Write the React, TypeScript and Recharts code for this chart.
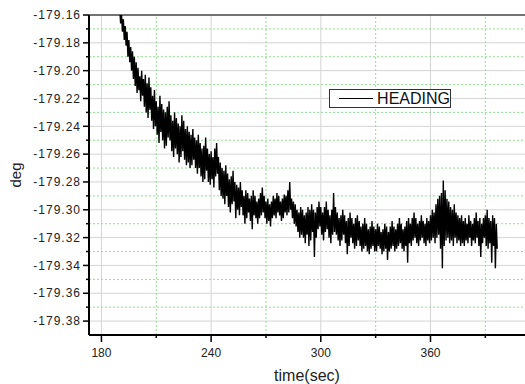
import { Legend, Line, LineChart, ReferenceLine, XAxis, YAxis } from "recharts";

// heading samples every 0.5 s, stored as thousandths of a degree below -179
const BASE = -179;
const STEP = 0.5;

const DECAY_T0 = 189;
const DECAY = [
  146, 158, 155, 166, 160, 172, 163, 178, 168, 182, 172, 190, 178, 194, 183, 200, 186, 206, 190, 211,
  194, 216, 198, 214, 204, 222, 200, 218, 206, 226, 203, 230, 209, 234, 205, 228, 212, 236, 218, 242,
  214, 240, 222, 246, 226, 252, 218, 244, 224, 250, 228, 256, 230, 254, 226, 248, 222, 250, 232, 258,
  236, 262, 230, 256, 234, 260, 238, 266, 240, 262, 232, 258, 236, 264, 242, 268, 240, 266, 244, 270,
  246, 268,
];

const MID_T0 = 230;
const MID = [
  242, 264, 248, 270, 250, 274, 246, 270, 252, 276, 256, 280, 254, 278, 248, 272, 256, 280, 260, 282,
  258, 278, 262, 284, 256, 276, 252, 274, 262, 286, 266, 290, 270, 292, 272, 296, 268, 290, 274, 298,
  278, 302, 276, 296, 272, 294, 280, 306, 282, 300, 284, 304, 280, 298, 286, 304, 290, 310, 286, 306,
  288, 302, 292, 308, 290, 314, 286, 304, 290, 306, 294, 310, 292, 306, 288, 304, 284, 302, 290, 306,
  294, 310, 292, 308, 296, 312, 294, 306, 290, 304, 292, 306, 288, 302, 290, 304, 294, 308, 292, 306,
  289, 302, 290, 304, 286, 302, 280, 300, 292, 306, 294, 310, 296, 312, 300, 316, 302, 320, 298, 318,
];

const FLAT1_T0 = 290;
const FLAT1 = [
  300, 320, 304, 324, 302, 318, 298, 326, 300, 322, 296, 316, 300, 334, 302, 320, 298, 314, 294, 312,
  298, 318, 302, 322, 298, 316, 294, 314, 300, 320, 304, 324, 300, 318, 288, 316, 298, 318, 302, 322,
  306, 326, 304, 322, 300, 318, 304, 324, 308, 332, 306, 326, 302, 320, 306, 324, 310, 328, 306, 326,
  304, 322, 308, 326, 312, 330, 310, 328, 306, 326, 310, 330, 314, 332, 312, 328, 308, 326, 312, 330,
];

const FLAT2_T0 = 330;
const FLAT2 = [
  314, 330, 310, 326, 312, 328, 316, 332, 314, 330, 310, 328, 312, 336, 316, 330, 312, 328, 308, 326,
  312, 330, 314, 328, 310, 326, 306, 324, 310, 328, 314, 330, 312, 326, 308, 338, 306, 324, 310, 326,
  306, 322, 302, 320, 306, 324, 310, 326, 308, 322, 304, 320, 308, 324, 310, 326, 306, 322, 308, 324,
];

const HUMP_T0 = 360;
const HUMP = [
  304, 322, 300, 320, 302, 324, 296, 320, 292, 318, 290, 328, 288, 342, 279, 326, 286, 322, 292, 320,
  294, 324, 298, 322, 300, 326, 296, 320, 302, 324, 304, 322, 306, 326, 304, 324,
];

const TAIL_T0 = 378;
const TAIL = [
  308, 326, 306, 322, 310, 324, 304, 320, 308, 326, 310, 322, 306, 324, 302, 320, 308, 326, 306, 334,
  310, 324, 306, 320, 304, 326, 300, 328, 306, 324, 308, 338, 304, 326, 306, 342, 310, 328,
];

const SEGMENTS: [number, number[]][] = [
  [DECAY_T0, DECAY],
  [MID_T0, MID],
  [FLAT1_T0, FLAT1],
  [FLAT2_T0, FLAT2],
  [HUMP_T0, HUMP],
  [TAIL_T0, TAIL],
];

const data = SEGMENTS.flatMap(([t0, vals]) =>
  vals.map((v, i) => ({ time: t0 + i * STEP, heading: BASE - v / 1000 }))
);

const MAJOR_X = [180, 240, 300, 360];
const MINOR_X = [210, 270, 330, 390];
const MAJOR_Y = [-179.16, -179.18, -179.2, -179.22, -179.24, -179.26, -179.28, -179.3, -179.32, -179.34, -179.36, -179.38];
const MINOR_Y = [-179.17, -179.19, -179.21, -179.23, -179.25, -179.27, -179.29, -179.31, -179.33, -179.35, -179.37];

const FONT = "'Liberation Sans', Arial, sans-serif";
const GRID_GRAY = "#d4d4d4";
const GRID_GREEN = "#8ee08e";

function XTick({ x, y, payload }: any) {
  const major = MAJOR_X.includes(payload.value);
  return (
    <g>
      <line x1={x} x2={x} y1={y} y2={y + (major ? 7 : 3)} stroke="#000" strokeWidth={1.5} />
      {major && (
        <text x={x} y={y + 22} textAnchor="middle" fontSize={12} fontFamily={FONT} fill="#222">
          {payload.value}
        </text>
      )}
    </g>
  );
}

function YTick({ x, y, payload }: any) {
  const major = MAJOR_Y.some((v) => Math.abs(v - payload.value) < 1e-6);
  return (
    <g>
      <line x1={x - (major ? 6 : 3)} x2={x} y1={y} y2={y} stroke="#000" strokeWidth={1.5} />
      {major && (
        <text x={x - 8} y={y} dy="0.35em" textAnchor="end" fontSize={12} letterSpacing={1} fontFamily={FONT} fill="#222">
          {payload.value.toFixed(2)}
        </text>
      )}
    </g>
  );
}

function LegendBox() {
  return (
    <div
      style={{
        width: 120,
        height: 17,
        border: "1px solid #333",
        display: "flex",
        alignItems: "center",
        background: "#fff",
        fontFamily: FONT,
        fontSize: 16,
        color: "#111",
      }}
    >
      <div style={{ width: 35, height: 1, background: "#000", marginLeft: 9, marginRight: 4 }} />
      <span style={{ lineHeight: "17px" }}>HEADING</span>
    </div>
  );
}

export default function App() {
  return (
    <div style={{ position: "absolute", left: 0, top: 0, background: "#fff" }}>
      <LineChart width={525} height={384} data={data} margin={{ top: 15, right: 0, bottom: 0, left: 0 }}>
        {MAJOR_X.map((v) => (
          <ReferenceLine key={`gx${v}`} x={v} stroke={GRID_GRAY} strokeWidth={1} />
        ))}
        {MAJOR_Y.slice(1).map((v) => (
          <ReferenceLine key={`gy${v}`} y={v} stroke={GRID_GRAY} strokeWidth={1} />
        ))}
        {MINOR_X.map((v) => (
          <ReferenceLine key={`mx${v}`} x={v} stroke={GRID_GREEN} strokeDasharray="2 2" />
        ))}
        {MINOR_Y.map((v) => (
          <ReferenceLine key={`my${v}`} y={v} stroke={GRID_GREEN} strokeDasharray="2 2" />
        ))}
        <ReferenceLine y={-179.16} stroke="#444" strokeWidth={1.5} />
        <XAxis
          dataKey="time"
          type="number"
          domain={[173.2, 411.7]}
          allowDataOverflow
          ticks={[...MAJOR_X, ...MINOR_X].sort((a, b) => a - b)}
          interval={0}
          tick={<XTick />}
          tickLine={false}
          tickSize={0}
          tickMargin={0}
          height={49}
          axisLine={{ stroke: "#000", strokeWidth: 2 }}
          label={{
            content: () => (
              <text x={307} y={381} textAnchor="middle" fontSize={16} fontFamily={FONT} fill="#222">
                time(sec)
              </text>
            ),
          }}
        />
        <YAxis
          type="number"
          domain={[-179.39, -179.16]}
          allowDataOverflow
          ticks={[...MAJOR_Y, ...MINOR_Y].sort((a, b) => b - a)}
          interval={0}
          tick={<YTick />}
          tickLine={false}
          tickSize={0}
          tickMargin={0}
          width={89}
          axisLine={{ stroke: "#000", strokeWidth: 2 }}
          label={{
            content: () => (
              <text x={21} y={175} transform="rotate(-90 21 175)" textAnchor="middle" fontSize={15} fontFamily={FONT} fill="#222">
                deg
              </text>
            ),
          }}
        />
        <Legend
          layout="horizontal"
          verticalAlign="middle"
          content={() => <LegendBox />}
          wrapperStyle={{ left: 329, top: 89, width: "auto" }}
        />
        <Line
          type="linear"
          dataKey="heading"
          stroke="#000"
          strokeWidth={1.4}
          dot={false}
          isAnimationActive={false}
          legendType="line"
        />
      </LineChart>
    </div>
  );
}
